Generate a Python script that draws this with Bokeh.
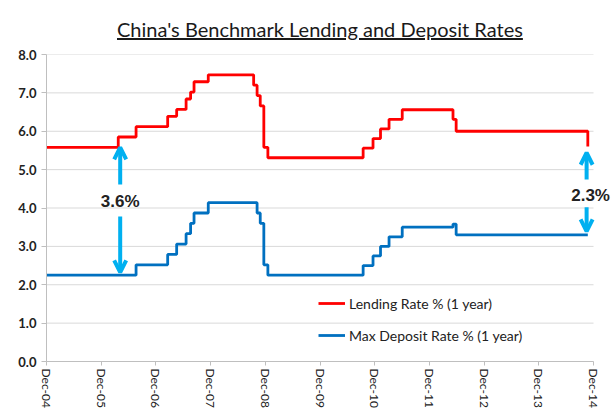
import math
import pandas as pd
from bokeh.plotting import figure
from bokeh.models import (FixedTicker, NumeralTickFormatter, Arrow, OpenHead,
                          Label, Div, Range1d)
from bokeh.layouts import column
from bokeh.embed import file_html
from bokeh.resources import INLINE

title_text = "China's Benchmark Lending and Deposit Rates"

lending_dates = ["2004-12-01", "2006-03-25", "2006-07-22", "2007-02-18", "2007-04-19",
                 "2007-06-21", "2007-07-21", "2007-08-13", "2007-11-16", "2008-09-14",
                 "2008-10-07", "2008-10-28", "2008-11-21", "2008-12-18", "2010-09-15",
                 "2010-11-20", "2011-01-09", "2011-03-07", "2011-06-03", "2012-05-07",
                 "2012-05-28", "2014-10-24"]
lending_rates = [5.58, 5.85, 6.12, 6.39, 6.57,
                 6.84, 7.02, 7.29, 7.47, 7.20,
                 6.93, 6.66, 5.58, 5.31, 5.56,
                 5.81, 6.06, 6.31, 6.56, 6.31,
                 6.00, 5.60]

deposit_dates = ["2004-12-01", "2006-07-22", "2007-02-18", "2007-04-19", "2007-06-21",
                 "2007-07-21", "2007-08-13", "2007-11-16", "2008-10-07", "2008-10-28",
                 "2008-11-21", "2008-12-18", "2010-09-15", "2010-11-20", "2011-01-09",
                 "2011-03-07", "2011-06-03", "2012-05-07", "2012-05-28", "2014-10-24"]
deposit_rates = [2.25, 2.52, 2.79, 3.06, 3.33,
                 3.60, 3.87, 4.14, 3.87, 3.60,
                 2.52, 2.25, 2.50, 2.75, 3.00,
                 3.25, 3.50, 3.58, 3.30, 3.30]

series_names = ["Lending Rate % (1 year)", "Max Deposit Rate % (1 year)"]

x_tick_dates = ["2004-12-01", "2005-12-01", "2006-12-01", "2007-12-01", "2008-12-01",
                "2009-12-01", "2010-12-01", "2011-12-01", "2012-12-01", "2013-12-01",
                "2014-12-01"]
x_tick_labels = ["Dec-04", "Dec-05", "Dec-06", "Dec-07", "Dec-08", "Dec-09",
                 "Dec-10", "Dec-11", "Dec-12", "Dec-13", "Dec-14"]
y_ticks = [0, 1, 2, 3, 4, 5, 6, 7, 8]

# spread annotations
ann_dates = ["2006-04-07", "2014-10-16"]
ann_texts = ["3.6%", "2.3%"]
ann_text_y = [4.17, 4.32]
ann_up_from = [4.61, 4.74]
ann_up_to = [5.58, 5.44]
ann_down_from = [3.78, 4.02]
ann_down_to = [2.32, 3.39]


def ms(d):
    return int((pd.Timestamp(d) - pd.Timestamp("1970-01-01")) // pd.Timedelta("1ms"))


RED = "#FF0000"
BLUE = "#0070C0"
CYAN = "#00B0F0"
GRID = "#D9D9D9"
AXIS = "#BFBFBF"
TXT = "#222222"

# axis spans 547 px; frame is extended 20 px to the right so the end label is not clipped
AXIS_PX = 547
EXTRA_PX = 20
x0 = ms(x_tick_dates[0])
x1 = ms(x_tick_dates[-1])
x_end = x1 + (x1 - x0) * EXTRA_PX / AXIS_PX

p = figure(width=46 + AXIS_PX + EXTRA_PX, height=364, x_axis_type="datetime",
           x_range=Range1d(x0, x_end),
           y_range=Range1d(0, 8),
           output_backend="svg", toolbar_location=None,
           min_border_left=46, min_border_right=0, min_border_top=8,
           min_border_bottom=10)
p.outline_line_color = None
p.background_fill_color = "white"

# horizontal gridlines, limited to the axis extent
p.segment(x0=[x0] * len(y_ticks), y0=y_ticks, x1=[x1] * len(y_ticks), y1=y_ticks,
          line_color=GRID, line_width=1, level="underlay")

p.step(pd.to_datetime(lending_dates), lending_rates, mode="after",
       line_color=RED, line_width=2.8, legend_label=series_names[0])
p.step(pd.to_datetime(deposit_dates), deposit_rates, mode="after",
       line_color=BLUE, line_width=2.8, legend_label=series_names[1])

# axes
p.xaxis.bounds = (x0, x1)
p.xaxis.ticker = FixedTicker(ticks=[ms(d) for d in x_tick_dates])
p.xaxis.major_label_overrides = {ms(d): lab for d, lab in zip(x_tick_dates, x_tick_labels)}
p.xaxis.major_label_orientation = -math.pi / 2
p.xaxis.minor_tick_line_color = None
p.xaxis.axis_line_color = AXIS
p.xaxis.major_tick_line_color = AXIS
p.xaxis.major_tick_out = 4
p.xaxis.major_tick_in = 0
p.xaxis.major_label_standoff = 3
p.xaxis.major_label_text_font = "Lato"
p.xaxis.major_label_text_font_size = "12px"
p.xaxis.major_label_text_color = TXT

p.yaxis.ticker = FixedTicker(ticks=y_ticks)
p.yaxis.formatter = NumeralTickFormatter(format="0.0")
p.yaxis.minor_tick_line_color = None
p.yaxis.axis_line_color = AXIS
p.yaxis.major_tick_line_color = AXIS
p.yaxis.major_tick_out = 5
p.yaxis.major_tick_in = 0
p.yaxis.major_label_standoff = 5
p.yaxis.major_label_text_font = "Lato"
p.yaxis.major_label_text_font_style = "bold"
p.yaxis.major_label_text_font_size = "13px"
p.yaxis.major_label_text_color = TXT

p.xgrid.visible = False
p.ygrid.visible = False

# legend
lg = p.legend[0]
lg.location = (272, 16)
lg.padding = 0
lg.margin = 0
lg.spacing = 12
lg.glyph_width = 27
lg.glyph_height = 20
lg.label_height = 20
lg.label_standoff = 4
lg.label_text_font = "Lato"
lg.label_text_font_size = "14px"
lg.label_text_color = TXT
lg.background_fill_alpha = 0
lg.border_line_alpha = 0

# spread arrows and labels
for d, t, ty, uf, ut, df, dt in zip(ann_dates, ann_texts, ann_text_y, ann_up_from,
                                     ann_up_to, ann_down_from, ann_down_to):
    x = ms(d)
    for y0, y1 in ((uf, ut), (df, dt)):
        p.add_layout(Arrow(end=OpenHead(size=12, line_color=CYAN, line_width=4),
                           x_start=x, y_start=y0, x_end=x, y_end=y1,
                           line_color=CYAN, line_width=4))
    p.add_layout(Label(x=x, y=ty, text=t, text_align="center", text_baseline="middle",
                       x_offset=4 if t == ann_texts[1] else 0,
                       text_font="Liberation Sans", text_font_style="bold",
                       text_font_size="17px", text_color=TXT))

title = Div(text="<u>" + title_text + "</u>", margin=(16, 0, 0, 117), width=480, height=30,
            styles={"font-family": "Lato", "font-size": "20px", "color": "#1a1a1a",
                    "white-space": "nowrap", "line-height": "26px"})

layout = column(title, p, spacing=0)
open("out.html", "w").write(file_html(layout, INLINE))
